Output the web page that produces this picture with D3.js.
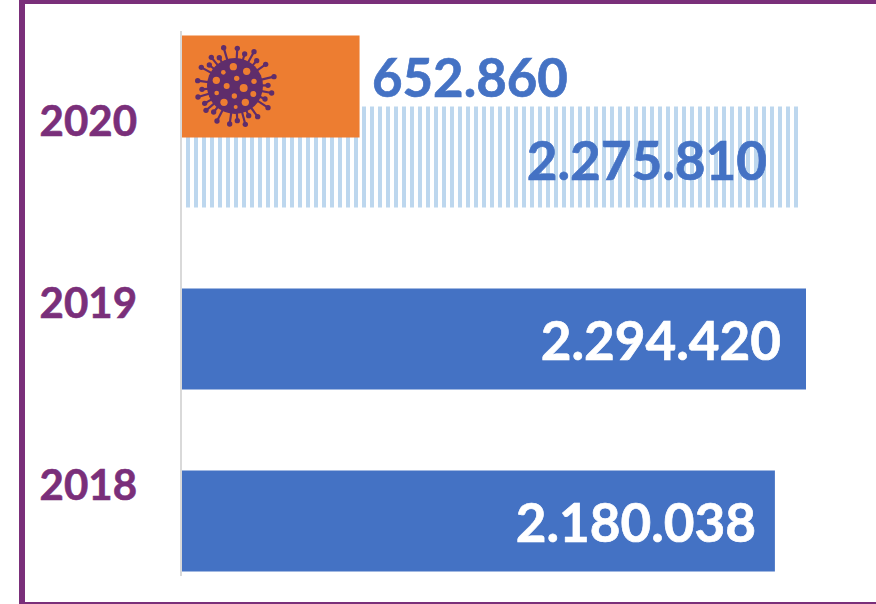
<!DOCTYPE html>
<html><head><meta charset="utf-8">
<script src="https://cdnjs.cloudflare.com/ajax/libs/d3/7.8.5/d3.min.js"></script>
<style>html,body{margin:0;padding:0;background:#fff}svg{display:block}text{font-family:Lato,sans-serif;font-weight:700}</style>
</head><body><svg id="c" width="876" height="604"></svg>
<script>
const years = ["2020","2019","2018"];
const totals = [2275810,2294420,2180038];
const covidValue = 652860;
const totalLabels = ["2.275.810","2.294.420","2.180.038"];
const covidLabel = "652.860";
const spikeTips = [[161,68],[202,70],[224,87],[252,80],[260,107],[287,118],[312,155],[294,181],[305,204],[285,222],[294,248],[263,275],[236,272],[226,298],[202,287],[179,297],[141,288],[131,261],[108,256],[104,235],[84,216],[96,193],[83,167],[94,127],[118,120],[124,97],[148,98]];
const spots = [[190,125,11],[230,139,11],[160,142,7],[139,166,11],[200,160,8],[252,169,8],[170,183,9],[221,189,12],[140,204,7],[193,213,8],[250,207,9],[162,232,11],[226,232,11],[197,246,6]];

const PURPLE="#7a2f7a", BLUE="#4472c4", LIGHT="#bdd7ee", ORANGE="#ed7d31", VIRUS="#5f2d6b";
const svg=d3.select("#c");
const x=d3.scaleLinear().domain([0,2294420]).range([182,806]);
const y=d3.scalePoint().domain(years).range([157,521]);
const barH=101;

svg.append("rect").attr("x",19).attr("y",0).attr("width",6).attr("height",604).attr("fill",PURPLE);
svg.append("rect").attr("x",19).attr("y",0).attr("width",857).attr("height",4).attr("fill",PURPLE);
svg.append("rect").attr("x",19).attr("y",602).attr("width",857).attr("height",2).attr("fill",PURPLE);

const pat=svg.append("defs").append("pattern").attr("id","stripes").attr("patternUnits","userSpaceOnUse")
  .attr("x",182).attr("y",0).attr("width",8).attr("height",8);
pat.append("rect").attr("x",4).attr("width",4).attr("height",8).attr("fill",LIGHT);

svg.append("line").attr("x1",181).attr("x2",181).attr("y1",31).attr("y2",576).attr("stroke","#d9d9d9").attr("stroke-width",2);

svg.selectAll("rect.bar").data(years).join("rect").attr("class","bar")
  .attr("x",x(0)).attr("y",d=>y(d)-barH/2).attr("height",barH)
  .attr("width",(d,i)=>x(totals[i])-x(0))
  .attr("fill",(d,i)=>i===0?"url(#stripes)":BLUE);

const covidY=y("2020")-barH/2-71;
svg.append("rect").attr("x",x(0)).attr("y",covidY).attr("width",x(covidValue)-x(0)).attr("height",102).attr("fill",ORANGE);

const iconScale=1/3, cx=195, cy=183;
const icon=svg.append("g").attr("transform",`translate(235,86) scale(${iconScale}) translate(${-cx},${-cy})`);
icon.selectAll("line").data(spikeTips).join("line")
  .attr("x1",cx).attr("y1",cy).attr("x2",d=>d[0]).attr("y2",d=>d[1])
  .attr("stroke",VIRUS).attr("stroke-width",6.5);
icon.selectAll("circle.tip").data(spikeTips).join("circle").attr("class","tip")
  .attr("cx",d=>d[0]).attr("cy",d=>d[1]).attr("r",8).attr("fill",VIRUS);
icon.append("circle").attr("cx",cx).attr("cy",cy).attr("r",84).attr("fill",VIRUS);
icon.selectAll("circle.spot").data(spots).join("circle").attr("class","spot")
  .attr("cx",d=>d[0]).attr("cy",d=>d[1]).attr("r",d=>d[2]).attr("fill",ORANGE);

svg.selectAll("text.year").data(years).join("text").attr("class","year")
  .attr("x",137).attr("y",d=>y(d)-21.5).attr("text-anchor","end")
  .attr("font-size",42).attr("fill",PURPLE).attr("stroke",PURPLE).attr("stroke-width",0.6).text(d=>d);

const labelRight=[767,781,756];
const labelDy=[23,21,21];
svg.selectAll("text.val").data(totalLabels).join("text").attr("class","val")
  .attr("x",(d,i)=>labelRight[i]).attr("y",(d,i)=>y(years[i])+labelDy[i]).attr("text-anchor","end")
  .attr("font-size",53).attr("fill",(d,i)=>i===0?BLUE:"#fff")
  .attr("stroke",(d,i)=>i===0?BLUE:"#fff").attr("stroke-width",0.7).text(d=>d);
svg.append("text").attr("x",372).attr("y",96.5).attr("font-size",52.7).attr("fill",BLUE)
  .attr("stroke",BLUE).attr("stroke-width",0.7).text(covidLabel);
</script></body></html>
